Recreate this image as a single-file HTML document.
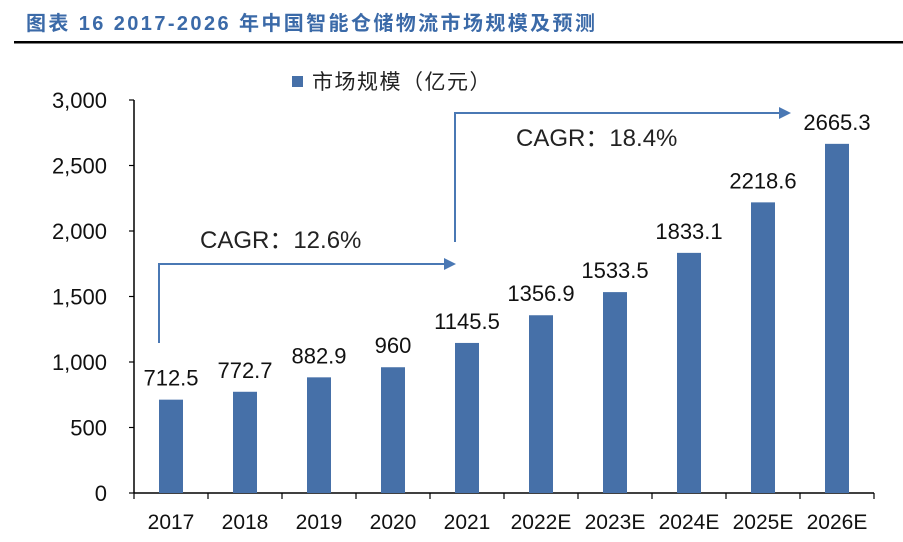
<!DOCTYPE html>
<html><head><meta charset="utf-8"><style>
body{margin:0;background:#fff;width:903px;height:537px;overflow:hidden;font-family:"Liberation Sans","Noto Sans CJK SC",sans-serif}
</style></head><body>
<svg width="903" height="537" xmlns="http://www.w3.org/2000/svg">
<text x="26" y="30" font-size="20" letter-spacing="2.4" font-weight="bold" fill="#3b6aa8" font-family="Liberation Sans,Noto Sans CJK SC,sans-serif">图表 16 2017-2026 年中国智能仓储物流市场规模及预测</text>
<rect x="14" y="41" width="889" height="2.5" fill="#000"/>
<rect x="292" y="76" width="11" height="11" fill="#4670a8"/>
<text x="312" y="89" font-size="21" letter-spacing="1.5" fill="#222" font-family="Noto Sans CJK SC,sans-serif">市场规模（亿元）</text>
<g id="plot"></g>
<g>
<polyline points="159,343 159,264 444,264" fill="none" stroke="#4a78b4" stroke-width="2"/>
<polygon points="444,258 456,264 444,270" fill="#4a78b4"/>
<text x="200" y="248" font-size="24" fill="#222">CAGR：12.6%</text>
</g>
<g>
<polyline points="455,242 455,113 779,113" fill="none" stroke="#4a78b4" stroke-width="2"/>
<polygon points="779,107 791,113 779,119" fill="#4a78b4"/>
<text x="516" y="146" font-size="24" fill="#222">CAGR：18.4%</text>
</g>
</svg>
<script>
const categories=["2017","2018","2019","2020","2021","2022E","2023E","2024E","2025E","2026E"];
const values=[712.5,772.7,882.9,960,1145.5,1356.9,1533.5,1833.1,2218.6,2665.3];
const valueLabels=["712.5","772.7","882.9","960","1145.5","1356.9","1533.5","1833.1","2218.6","2665.3"];
const yTicks=[0,500,1000,1500,2000,2500,3000];
const yTickLabels=["0","500","1,000","1,500","2,000","2,500","3,000"];
const NS="http://www.w3.org/2000/svg";
const g=document.getElementById("plot");
const x0=134,x1=874,y0=493,y1=100,yMax=3000;
const band=(x1-x0)/categories.length;
const y=v=>y0-(v/yMax)*(y0-y1);
const xc=i=>x0+band*(i+0.5);
function mk(t,a){const e=document.createElementNS(NS,t);for(const k in a)e.setAttribute(k,a[k]);g.appendChild(e);return e;}
let e=mk("line",{x1:x0,y1:y1,x2:x0,y2:y0,stroke:"#000","stroke-width":1.5});


e=mk("line",{x1:x0,y1:y0,x2:x1,y2:y0,stroke:"#000","stroke-width":1.5});


yTicks.forEach((t,i)=>{
 const yy=y(t);
 mk("line",{x1:x0-5,y1:yy,x2:x0,y2:yy,stroke:"#000","stroke-width":1.2});
 const tx=mk("text",{x:107,y:yy+8,"text-anchor":"end","font-size":22,fill:"#111"});
 tx.textContent=yTickLabels[i];
 
 
});
for(let i=0;i<=categories.length;i++){mk("line",{x1:x0+band*i,y1:y0,x2:x0+band*i,y2:y0+6,stroke:"#000","stroke-width":1.2});}
categories.forEach((c,i)=>{
 const bw=24;
 const r=mk("rect",{x:xc(i)-bw/2,y:y(values[i]),width:bw,height:y0-y(values[i]),fill:"#4670a8"});
 
 
 const vl=mk("text",{x:xc(i),y:y(values[i])-14,"text-anchor":"middle","font-size":22,fill:"#111"});
 vl.textContent=valueLabels[i];
 
 
 const xl=mk("text",{x:xc(i),y:529,"text-anchor":"middle","font-size":21,fill:"#111"});
 xl.textContent=c;
 
 
});
</script>
</body></html>
